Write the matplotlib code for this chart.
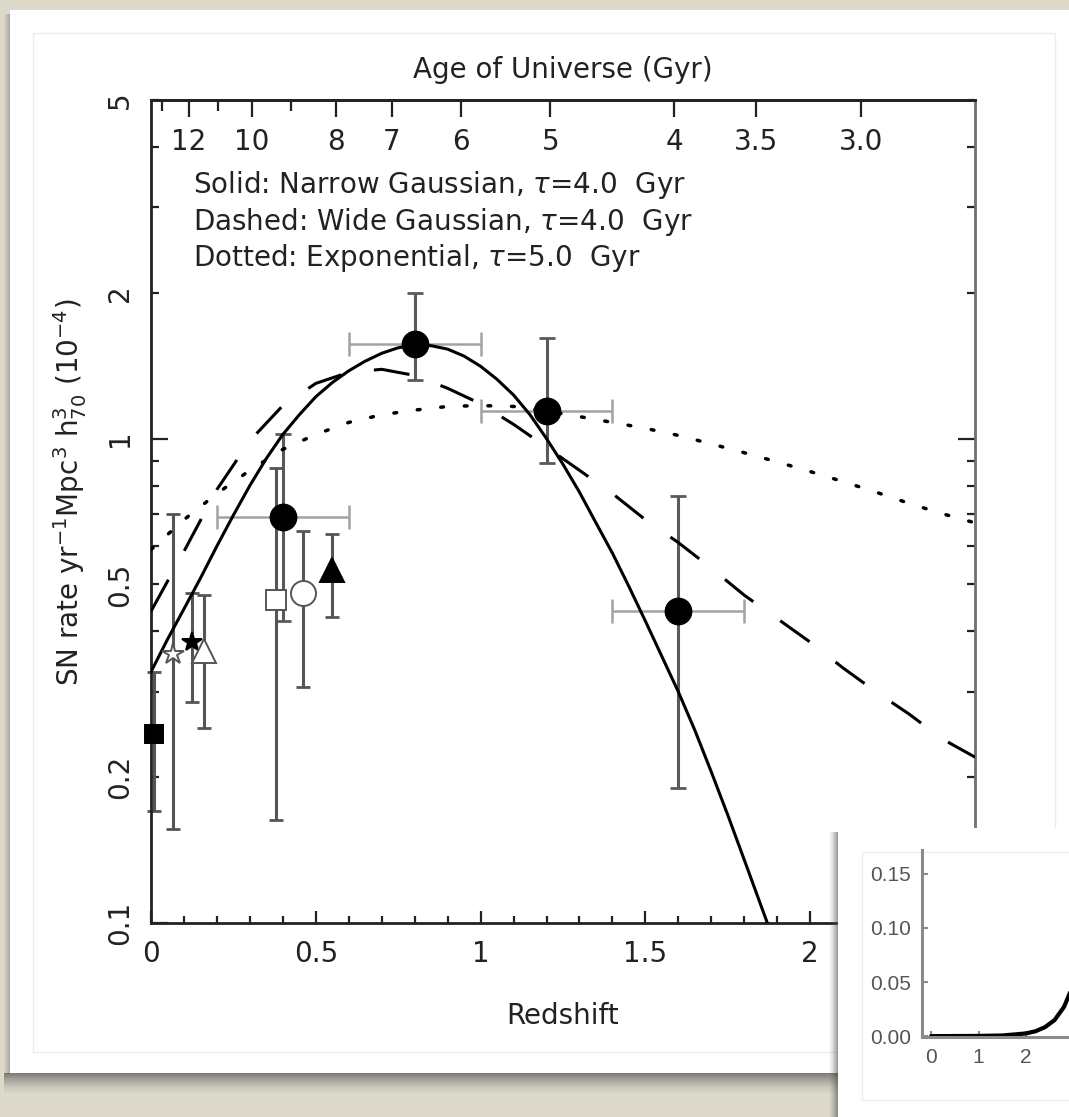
import numpy as np
import matplotlib
matplotlib.use("Agg")
import matplotlib.pyplot as plt
from matplotlib.patches import Rectangle
from matplotlib.ticker import FixedLocator, FixedFormatter, FuncFormatter, MultipleLocator

W, H = 1069, 1117
plt.rcParams['font.family'] = ['DejaVu Sans']
plt.rcParams['mathtext.fontset'] = 'dejavusans'
INK = '#222222'

# model SN Ia rates (1e-4 yr^-1 Mpc^-3 h70^3) vs redshift
solid_z = [0.0, 0.05, 0.1, 0.15, 0.2, 0.25, 0.3, 0.35, 0.4, 0.45, 0.5, 0.55,
           0.6, 0.65, 0.7, 0.75, 0.8, 0.85, 0.9, 0.95, 1.0, 1.05, 1.1, 1.15,
           1.2, 1.25, 1.3, 1.35, 1.4, 1.45, 1.5, 1.55, 1.6, 1.65, 1.7, 1.75,
           1.8, 1.87]
solid_rate = [0.33, 0.385, 0.445, 0.515, 0.60, 0.695, 0.80, 0.91, 1.02, 1.12,
              1.22, 1.305, 1.38, 1.445, 1.50, 1.54, 1.56, 1.555, 1.53, 1.48,
              1.41, 1.325, 1.23, 1.12, 1.00, 0.885, 0.775, 0.67, 0.58, 0.495,
              0.42, 0.355, 0.30, 0.25, 0.205, 0.167, 0.135, 0.10]

model_z = [0.0, 0.1, 0.2, 0.3, 0.4, 0.5, 0.6, 0.7, 0.8, 0.9, 1.0, 1.1, 1.2,
           1.3, 1.4, 1.5, 1.6, 1.7, 1.8, 1.9, 2.0, 2.1, 2.2, 2.3, 2.4, 2.5]
dashed_rate = [0.44, 0.585, 0.785, 0.99, 1.17, 1.30, 1.37, 1.39, 1.35, 1.27,
               1.18, 1.07, 0.96, 0.86, 0.77, 0.68, 0.61, 0.54, 0.475, 0.425,
               0.38, 0.336, 0.30, 0.27, 0.24, 0.22]
dotted_rate = [0.59, 0.68, 0.77, 0.86, 0.95, 1.02, 1.08, 1.12, 1.145, 1.165,
               1.17, 1.165, 1.14, 1.11, 1.08, 1.05, 1.015, 0.975, 0.935, 0.895,
               0.855, 0.815, 0.775, 0.735, 0.70, 0.67]

# GOODS rate measurements (filled circles)
gd_z = [0.4, 0.8, 1.2, 1.6]
gd_rate = [0.69, 1.57, 1.14, 0.44]
gd_lo = [0.42, 1.32, 0.89, 0.19]
gd_hi = [1.02, 2.00, 1.61, 0.76]
gd_zlo = [0.2, 0.6, 1.0, 1.4]
gd_zhi = [0.6, 1.0, 1.4, 1.8]

# other published rates
ot_z = [0.01, 0.067, 0.125, 0.16, 0.38, 0.46, 0.55]
ot_rate = [0.245, 0.36, 0.38, 0.365, 0.465, 0.48, 0.536]
ot_lo = [0.17, 0.156, 0.286, 0.253, 0.163, 0.307, 0.428]
ot_hi = [0.33, 0.70, 0.48, 0.476, 0.87, 0.646, 0.636]
ot_marker = ['s', '*', '*', '^', 's', 'o', '^']
ot_filled = [True, False, True, False, False, False, True]
ot_size = [13, 16, 15, 17, 15, 18, 17]

rate_major = [0.1, 1]
rate_labels = {0.1: '0.1', 0.2: '0.2', 0.5: '0.5', 1.0: '1', 2.0: '2', 5.0: '5'}
rate_minor = [0.2, 0.3, 0.4, 0.5, 0.6, 0.7, 0.8, 0.9, 2, 3, 4, 5]
z_ticks = [0, 0.5, 1, 1.5, 2, 2.5]
z_labels = ['0', '0.5', '1', '1.5', '2', '2.5']
age_ticks = [12, 10, 8, 7, 6, 5, 4, 3.5, 3.0]
age_labels = ['12', '10', '8', '7', '6', '5', '4', '3.5', '3.0']
age_minor = [13, 11, 9]

# inset: delay curve
inset_x = [0.0, 0.5, 1.0, 1.5, 2.0, 2.2, 2.4, 2.6, 2.8, 3.0, 3.2]
inset_y = [0.0, 0.0001, 0.0002, 0.0006, 0.0025, 0.0045, 0.0083, 0.0148,
           0.027, 0.048, 0.086]
inset_xticks = [0, 1, 2, 3]
inset_xlabels = ['0', '1', '2', '']
inset_yticks = [0.0, 0.05, 0.10, 0.15]
inset_ylabels = ['0.00', '0.05', '0.10', '0.15']

# flat LCDM, H0=70, Om=0.3
HUBBLE_T = 977.8 / 70.0
OM, OL = 0.3, 0.7
AA = 2.0 * HUBBLE_T / (3.0 * np.sqrt(OL))
BB = np.sqrt(OL / OM)


def z_to_age(z):
    z = np.clip(np.asarray(z, float), -0.99, None)
    return AA * np.arcsinh(BB * (1 + z) ** -1.5)


def age_to_z(t):
    t = np.clip(np.asarray(t, float), 1e-3, 80.0)
    return (np.sinh(t / AA) / BB) ** (-2.0 / 3.0) - 1


def px_axes(fig, x0, y0, x1, y1, **kw):
    return fig.add_axes([x0 / W, 1 - y1 / H, (x1 - x0) / W, (y1 - y0) / H], **kw)


fig = plt.figure(figsize=(W / 100, H / 100), dpi=100)
fig.patch.set_facecolor('#dddacb')

# paper card with drop shadow
bg = fig.add_axes([0, 0, 1, 1], zorder=0)
bg.set_xlim(0, W)
bg.set_ylim(H, 0)
bg.axis('off')
for i in range(22):
    bg.add_patch(Rectangle((4, 1073 + i), 840, 1, color='#3c3c3c',
                           alpha=0.6 * (1 - i / 22) ** 1.6, lw=0))
for i in range(6):
    bg.add_patch(Rectangle((9 - i, 14), 1, 1060, color='#555555',
                           alpha=0.35 * (1 - i / 6), lw=0))
bg.add_patch(Rectangle((10, 10), W, 1063, facecolor='white', edgecolor='none'))
bg.add_patch(Rectangle((33, 33), 1022, 1019, facecolor='none',
                       edgecolor='#ececec', lw=1))

ax = px_axes(fig, 151, 100, 975, 923, zorder=1)
ax.set_facecolor('none')
ax.set_yscale('log')
ax.set_xlim(0, 2.5)
ax.set_ylim(0.1, 5)

# error bars
gd_xerr = [np.subtract(gd_z, gd_zlo), np.subtract(gd_zhi, gd_z)]
gd_yerr = [np.subtract(gd_rate, gd_lo), np.subtract(gd_hi, gd_rate)]
ax.errorbar(gd_z, gd_rate, xerr=gd_xerr, fmt='none', ecolor='#a2a2a2',
            elinewidth=1.8, capsize=8.3, capthick=1.8, zorder=2)
ax.errorbar(gd_z, gd_rate, yerr=gd_yerr, fmt='none', ecolor='#5a5a5a',
            elinewidth=2.2, capsize=5.8, capthick=2.0, zorder=2)
ot_yerr = [np.subtract(ot_rate, ot_lo), np.subtract(ot_hi, ot_rate)]
ax.errorbar(ot_z, ot_rate, yerr=ot_yerr, fmt='none', ecolor='#555555',
            elinewidth=2.2, capsize=5, capthick=2.0, zorder=2, clip_on=False)

# model curves
ax.plot(solid_z, solid_rate, color='black', lw=2.2, zorder=3)
ax.plot(model_z, dashed_rate, color='black', lw=2.2, dashes=(11.8, 10.8), zorder=3)
ax.plot(model_z, dotted_rate, color='black', lw=2.5, dashes=(0.8, 6.0),
        dash_capstyle='round', zorder=3)

ax.plot(gd_z, gd_rate, 'o', ms=19, color='black', zorder=4)
for z, r, m, filled, s in zip(ot_z, ot_rate, ot_marker, ot_filled, ot_size):
    ax.plot(z, r, marker=m, ms=s, ls='none', zorder=4, clip_on=False,
            mfc='black' if filled else 'white',
            mec='black' if filled else '#555555', mew=1.4)

ax.text(0.051, 0.897, r'Solid: Narrow Gaussian, $\tau$=4.0  Gyr', transform=ax.transAxes,
        fontsize=20, color=INK, va='center')
ax.text(0.051, 0.852, r'Dashed: Wide Gaussian, $\tau$=4.0  Gyr', transform=ax.transAxes,
        fontsize=20, color=INK, va='center')
ax.text(0.051, 0.808, r'Dotted: Exponential, $\tau$=5.0  Gyr', transform=ax.transAxes,
        fontsize=20, color=INK, va='center')

# axes styling
for side in ['left', 'bottom', 'top']:
    ax.spines[side].set_color(INK)
    ax.spines[side].set_linewidth(2)
ax.spines['right'].set_color('#707070')
ax.spines['right'].set_linewidth(2)

ax.xaxis.set_major_locator(FixedLocator(z_ticks))
ax.xaxis.set_major_formatter(FixedFormatter(z_labels))
ax.xaxis.set_minor_locator(MultipleLocator(0.1))
ax.yaxis.set_major_locator(FixedLocator(rate_major))
ax.yaxis.set_minor_locator(FixedLocator(rate_minor))
ax.yaxis.set_major_formatter(FuncFormatter(lambda v, p: rate_labels.get(round(v, 3), '')))
ax.yaxis.set_minor_formatter(FuncFormatter(lambda v, p: rate_labels.get(round(v, 3), '')))

ax.tick_params(axis='x', which='both', direction='in', top=False, colors=INK,
               labelsize=20, pad=12, width=1.6)
ax.tick_params(axis='x', which='major', length=9)
ax.tick_params(axis='x', which='minor', length=5)
ax.tick_params(axis='y', which='both', direction='in', right=True, colors=INK,
               labelsize=20, pad=12, width=1.6, labelrotation=90)
ax.tick_params(axis='y', which='major', length=12)
ax.tick_params(axis='y', which='minor', length=6)
for lab in ax.get_yticklabels(which='both'):
    lab.set_verticalalignment('center')

sec = ax.secondary_xaxis('top', functions=(z_to_age, age_to_z))
sec.xaxis.set_major_locator(FixedLocator(age_ticks))
sec.xaxis.set_major_formatter(FixedFormatter(age_labels))
sec.xaxis.set_minor_locator(FixedLocator(age_minor))
sec.tick_params(axis='x', which='both', direction='in', colors=INK,
                labelsize=20, pad=-40, width=1.6)
sec.tick_params(axis='x', which='major', length=12)
sec.tick_params(axis='x', which='minor', length=8)
sec.spines['top'].set_color(INK)
sec.spines['top'].set_linewidth(2)

fig.text(563 / W, 1 - 70 / H, 'Age of Universe (Gyr)', fontsize=20, color=INK,
         ha='center', va='center')
fig.text(563 / W, 1 - 1016 / H, 'Redshift', fontsize=20, color=INK,
         ha='center', va='center')
fig.text(70 / W, 1 - 492 / H,
         r'SN rate yr$^{-1}$Mpc$^{3}$ h$_{70}^{3}$ (10$^{-4}$)', fontsize=20,
         color=INK, ha='center', va='center', rotation=90)

# inset card on top
top = fig.add_axes([0, 0, 1, 1], zorder=2)
top.set_xlim(0, W)
top.set_ylim(H, 0)
top.axis('off')
for i in range(9):
    top.add_patch(Rectangle((837 - i, 832), 1, H, color='#4a4a4a',
                            alpha=0.55 * (1 - i / 9) ** 1.4, lw=0))
top.add_patch(Rectangle((838, 828), W, H, facecolor='white', edgecolor='none'))
top.add_patch(Rectangle((862, 852), 400, 248, facecolor='none',
                        edgecolor='#ececec', lw=1))

ins = px_axes(fig, 922, 850, 1322, 1037, zorder=3)
ins.set_facecolor('none')
ins.plot(inset_x, inset_y, color='black', lw=3, solid_capstyle='round')
ins.set_xlim(-0.19, -0.19 + 400 / 47.5)
ins.set_ylim(-0.0008, 0.172)
ins.spines['top'].set_visible(False)
ins.spines['right'].set_visible(False)
for side in ['left', 'bottom']:
    ins.spines[side].set_color('#8a8a8a')
    ins.spines[side].set_linewidth(2.2)
ins.set_xticks(inset_xticks)
ins.set_xticklabels(inset_xlabels)
ins.set_yticks(inset_yticks)
ins.set_yticklabels(inset_ylabels)
ins.tick_params(direction='in', length=4, width=1.5, colors='#8a8a8a',
                labelcolor='#555555', labelsize=15, pad=8)
for lab in ins.get_xticklabels() + ins.get_yticklabels():
    lab.set_family(['Liberation Sans', 'DejaVu Sans'])

fig.savefig('out.png', dpi=100, facecolor=fig.get_facecolor())
